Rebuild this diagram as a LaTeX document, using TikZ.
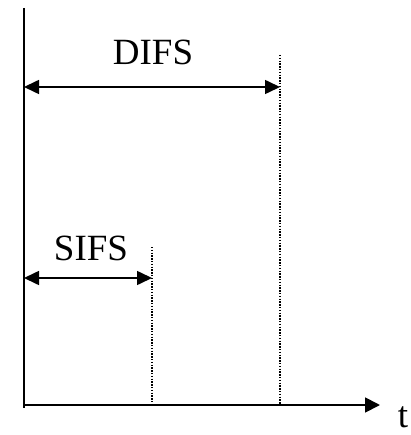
\documentclass[tikz,border=0pt]{standalone}
\usepackage{fontspec}
\setmainfont{Liberation Serif}
\usetikzlibrary{arrows.meta,positioning}

\tikzset{
  axis/.style={line width=1.8pt},
  span/.style={line width=1.6pt,{Triangle[length=15pt,width=14pt]}-{Triangle[length=15pt,width=14pt]}},
  mark line/.style={line width=1.3pt,dash pattern=on 1.4pt off 1.4pt},
  lbl/.style={font=\fontsize{37}{37}\selectfont,inner sep=0pt}
}

\begin{document}
\begin{tikzpicture}[x=1pt,y=-1pt]
\useasboundingbox (0,0) rectangle (410,435);
% time axis and origin
\coordinate (top) at (24,8);
\coordinate (bot) at (24,408);
\coordinate (o) at (24,405);
\coordinate (end) at (380,405);
\draw[axis] (top) -- (bot);
\draw[axis,-{Triangle[length=15pt,width=15pt]}] (o) -- (end);
\node[lbl,anchor=base] (t) at (403,427) {t};
% the two interframe spaces
\coordinate (sifs0) at (24,278);
\coordinate (sifs1) at (152,278);
\coordinate (sifstop) at (152,247);
\coordinate (sifsbot) at (152,405);
\coordinate (difs0) at (24,87);
\coordinate (difs1) at (280,87);
\coordinate (difstop) at (280,55);
\coordinate (difsbot) at (280,405);
\draw[mark line] (sifstop) -- (sifsbot);
\draw[mark line] (difstop) -- (difsbot);
\draw[span] (sifs0) -- (sifs1);
\draw[span] (difs0) -- (difs1);
\node[lbl] (sifs) at (91,248) {SIFS};
\node[lbl] (difs) at (153,52) {DIFS};
\end{tikzpicture}
\end{document}
